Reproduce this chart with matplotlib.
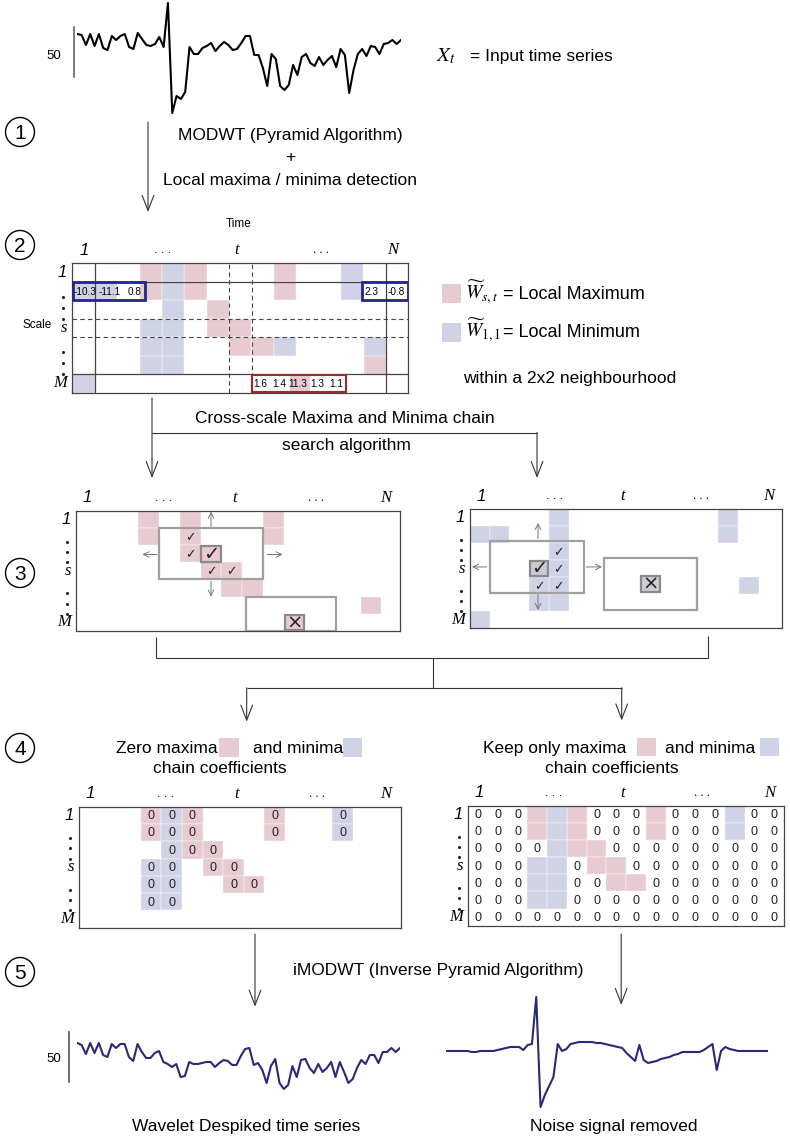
import matplotlib
matplotlib.use('Agg')
import matplotlib.pyplot as plt
from matplotlib.patches import Rectangle, Circle

plt.rcParams['font.family'] = ['Liberation Sans', 'DejaVu Sans']
plt.rcParams['mathtext.fontset'] = 'stix'

W, H = 790, 1138
PINK = '#e8cad1'
BLUE = '#d0d2e6'
NAVY = '#2b2878'
INK = '#333333'
GRAY = '#a0a0a0'

# ---- time series (1 unit ~ 1 px, scale bar = 50) ----
input_series = [86, 85, 75, 86, 74, 86, 72, 70, 84, 80, 84, 86, 73, 71, 87, 81, 75, 74, 76, 83,
                73, 117, 7, 24, 21, 28, 73, 66, 66, 72, 74, 77, 69, 74, 78, 75, 70, 71,
                77, 84, 84, 65, 65, 52, 34, 66, 61, 34, 30, 35, 55, 45, 63, 66, 57, 54, 63, 55,
                60, 64, 53, 71, 65, 27, 50, 66, 71, 64, 74, 73, 66, 76, 77, 80, 76, 80]
despiked_series = [57, 55, 46, 57, 47, 57, 45, 43, 56, 52, 56, 56, 43, 39, 56, 48, 42, 42, 47, 49,
                   38, 36, 33, 36, 23, 24, 38, 36, 36, 37, 38, 38, 33, 37, 40, 39, 35, 35, 44, 51,
                   52, 35, 37, 30, 17, 34, 41, 17, 11, 15, 34, 23, 40, 41, 32, 27, 36, 28, 32, 38,
                   23, 38, 28, 17, 21, 32, 40, 36, 45, 45, 37, 48, 48, 52, 48, 52]
noise_series = [0, 0, 0, 0, 0, 0, -1, -1, 0, 0, 0, 0, 1, 2, 3, 4, 4, 4, 1, 6,
                7, 54, -56, -44, -35, -26, 7, 0, 2, 7, 8, 9, 9, 9, 9, 8, 8, 7, 6, 5,
                4, 3, -2, -6, -10, 6, -9, -12, -11, -10, -8, -7, -6, -4, -3, -1, -1, -1, -1, -1,
                1, 4, 7, -19, 0, 4, 2, 1, 0, 0, 0, 0, 0, 0, 0, 0]

# ---- wavelet coefficient grids: (row, column) of flagged cells ----
step2_max = [(0, 3), (1, 3), (0, 5), (1, 5), (2, 6), (3, 6), (3, 7), (4, 7), (4, 8), (0, 9), (1, 9), (5, 13)]
step2_min = [(0, 4), (1, 4), (2, 4), (3, 4), (4, 4), (5, 4), (3, 3), (4, 3), (5, 3), (4, 9),
             (0, 12), (1, 12), (4, 13), (6, 0), (1, 0), (1, 1)]
box_left_vals = ['-10.3', '-11.1', '0.8']
box_right_vals = ['2.3', '-0.8']
box_bottom_vals = ['1.6', '1.4', '11.3', '1.3', '1.1']

step3_max = [(0, 3), (1, 3), (0, 5), (1, 5), (2, 5), (2, 6), (3, 6), (3, 7), (4, 7), (4, 8),
             (0, 9), (1, 9), (5, 13.7), (6, 10)]
step3_max_checks = [(1, 5), (2, 5), (3, 6), (3, 7)]
step3_max_hit, step3_max_miss = (2, 6), (6, 10)
step3_min = [(1, 0), (1, 1), (0, 4), (1, 4), (2, 4), (3, 4), (4, 4), (5, 4), (3, 3), (4, 3), (5, 3),
             (0, 12.6), (1, 12.6), (4, 13.65), (6, 0)]
step3_min_checks = [(2, 4), (3, 4), (4, 3), (4, 4)]
step3_min_hit, step3_min_miss = (3, 3), (3.9, 8.66)

step4_max = [(0, 3), (1, 3), (0, 5), (1, 5), (2, 5), (2, 6), (3, 6), (3, 7), (4, 7), (4, 8), (0, 9), (1, 9)]
step4_min_left = [(0, 4), (1, 4), (2, 4), (3, 3), (3, 4), (4, 3), (4, 4), (5, 3), (5, 4), (0, 12.3), (1, 12.3)]
step4_min_right = [(0, 4), (1, 4), (2, 4), (3, 3), (3, 4), (4, 3), (4, 4), (5, 3), (5, 4), (0, 13), (1, 13)]

fig = plt.figure(figsize=(W / 100, H / 100), dpi=100)
canvas = fig.add_axes([0, 0, 1, 1])
canvas.set_xlim(0, W)
canvas.set_ylim(H, 0)
canvas.axis('off')


def px_axes(x0, y0, x1, y1):
    ax = fig.add_axes([x0 / W, 1 - y1 / H, (x1 - x0) / W, (y1 - y0) / H])
    ax.set_zorder(2)
    return ax


def text(x, y, s, size=12.5, ha='center', **kw):
    canvas.text(x, y, s, fontsize=size, ha=ha, va='center', **kw)


def line(xs, ys):
    canvas.plot(xs, ys, color=INK, lw=0.8, solid_capstyle='butt')


def arrow(x, y0, y1):
    canvas.annotate('', xy=(x, y1), xytext=(x, y0),
                    arrowprops=dict(arrowstyle='->,head_length=0.9,head_width=0.35', lw=0.8,
                                    color=INK, shrinkA=0, shrinkB=0, mutation_scale=12))


def step_mark(y, n):
    canvas.add_patch(Circle((20, y), 14.5, fill=False, ec='black', lw=1.0))
    text(20, y + 1, str(n), size=15)


def make_grid(x0, y0, x1, y1, ncols, nrows=7):
    ax = px_axes(x0, y0, x1, y1)
    ax.set_xlim(0, ncols)
    ax.set_ylim(nrows, 0)
    ax.set_xticks([])
    ax.set_yticks([])
    for sp in ax.spines.values():
        sp.set_color('#444444')
        sp.set_linewidth(0.9)
    # column and row labels
    for frac, lab, fam in [(0.035, '1', 'Liberation Sans'), (0.27, '. . .', 'Liberation Sans'),
                           (0.49, 't', 'Liberation Serif'), (0.74, '. . .', 'Liberation Serif'),
                           (0.955, 'N', 'Liberation Serif')]:
        style = 'normal' if lab.startswith('.') else 'italic'
        text(x0 + frac * (x1 - x0), y0 - 13, lab, size=9 if style == 'normal' else 12,
             family=fam, style=style)
    rh = (y1 - y0) / nrows
    for r, lab, fam in [(0, '1', 'Liberation Sans'), (3, 's', 'Liberation Serif'), (6, 'M', 'Liberation Serif')]:
        text(x0 - 5, y0 + (r + 0.5) * rh, lab, size=12, ha='right', family=fam, style='italic')
    for r in [1.3, 1.9, 2.5, 4.3, 4.9, 5.5]:
        canvas.plot(x0 - 9, y0 + (r + 0.5) * rh, 'o', ms=1.2, color='#222222')
    return ax


def fill_cells(ax, cells, color, label=None, size=9):
    for r, c in cells:
        ax.add_patch(Rectangle((c, r), 1, 1, facecolor=color, edgecolor='white', lw=0.3))
        if label:
            ax.text(c + 0.5, r + 0.55, label, fontsize=size, ha='center', va='center', color='#222222')


def ticks(ax, cells, size=9):
    for r, c in cells:
        ax.text(c + 0.5, r + 0.55, '\u2713', fontsize=size, ha='center', va='center',
                family='DejaVu Sans', color='#222222')


def box_mark(ax, cell, fc, mark):
    r, c = cell
    ax.add_patch(Rectangle((c + 0.04, r + 0.04), 0.92, 0.92, facecolor=fc, edgecolor='#8a8a8a', lw=1.6, zorder=4))
    ax.text(c + 0.5, r + 0.52, mark, fontsize=14, ha='center', va='center',
            family='DejaVu Sans', color='#222222', zorder=5)


def small_arrow(ax, x0, y0, x1, y1):
    ax.annotate('', xy=(x1, y1), xytext=(x0, y0),
                arrowprops=dict(arrowstyle='->,head_length=0.5,head_width=0.25', lw=0.7,
                                color='#777777', shrinkA=0, shrinkB=0, mutation_scale=8))


# ---------------- step 1: input series ----------------
ax = px_axes(77.3, 0, 401, 120)
ax.plot(range(len(input_series)), input_series, color='black', lw=1.5)
ax.plot([-0.8, -0.8], [43, 93], color='#666666', lw=1.2, clip_on=False)
ax.text(-3.8, 64, '50', fontsize=9.5, ha='right', va='center')
ax.set_xlim(0, len(input_series) - 1)
ax.set_ylim(0, 120)
ax.axis('off')

text(436, 56, r'$X_t$', size=15, ha='left')
text(470, 56, '= Input time series', size=12.5, ha='left')

step_mark(132, 1)
arrow(148, 122, 212)
text(290, 135, 'MODWT (Pyramid Algorithm)')
text(290, 157, '+')
text(290, 180, 'Local maxima / minima detection')

# ---------------- step 2: MODWT coefficient grid ----------------
step_mark(245, 2)
text(239, 224, 'Time', size=8.5)
text(37, 325, 'Scale', size=8.5)
g2 = make_grid(72.3, 263.3, 408.3, 392.7, 15)
fill_cells(g2, step2_max, PINK)
fill_cells(g2, step2_min, BLUE)
for yv in [1, 6]:
    g2.axhline(yv, color='#444444', lw=0.9)
for xv in [1, 14]:
    g2.axvline(xv, color='#444444', lw=0.9)
for yv in [3, 4]:
    g2.axhline(yv, color='#444444', lw=0.8, ls=(0, (4, 3)))
for xv in [7, 8]:
    g2.axvline(xv, color='#444444', lw=0.8, ls=(0, (4, 3)))
g2.add_patch(Rectangle((0.03, 1), 3.2, 1, fill=False, ec='#23238c', lw=2.0, zorder=4))
g2.add_patch(Rectangle((12.92, 1), 2.05, 1, fill=False, ec='#23238c', lw=2.0, zorder=4))
for k, v in enumerate(box_left_vals):
    g2.text(0.57 + 1.1 * k, 1.55, v, fontsize=7.2, ha='center', va='center', zorder=5)
for k, v in enumerate(box_right_vals):
    g2.text(13.37 + 1.1 * k, 1.55, v, fontsize=7.2, ha='center', va='center', zorder=5)
g2.add_patch(Rectangle((9.72, 6.02), 0.9, 0.93, facecolor=PINK, edgecolor='none', zorder=3))
g2.add_patch(Rectangle((8.0, 6.02), 4.2, 0.93, fill=False, ec='#9c2b2b', lw=1.5, zorder=4))
for k, v in enumerate(box_bottom_vals):
    g2.text(8.38 + 0.85 * k, 6.52, v, fontsize=7.2, ha='center', va='center', zorder=5)

# legend
canvas.add_patch(Rectangle((441.7, 284.3), 19, 19, facecolor=PINK, edgecolor='none'))
canvas.add_patch(Rectangle((441.7, 322.7), 19, 19, facecolor=BLUE, edgecolor='none'))
text(465, 292, r'$\widetilde{W}_{s,t}$', size=14, ha='left')
text(503, 294, '= Local Maximum', size=13, ha='left')
text(465, 330, r'$\widetilde{W}_{1,1}$', size=14, ha='left')
text(503, 332, '= Local Minimum', size=13, ha='left')
text(463, 378, 'within a 2x2 neighbourhood', size=12.5, ha='left')

# arrows to step 3
line([152, 537], [432.5, 432.5])
arrow(152, 398, 478)
arrow(537, 432.5, 478)
text(345, 418, 'Cross-scale Maxima and Minima chain')
text(346, 445, 'search algorithm')

# ---------------- step 3: chain search ----------------
step_mark(573, 3)
g3a = make_grid(76, 510.7, 400, 631, 15.6)
fill_cells(g3a, step3_max, PINK)
ticks(g3a, step3_max_checks)
box_mark(g3a, step3_max_hit, PINK, '\u2713')
box_mark(g3a, step3_max_miss, PINK, '\u00d7')
g3a.add_patch(Rectangle((4, 1), 5, 3, fill=False, ec=GRAY, lw=1.6, zorder=3))
g3a.add_patch(Rectangle((8.2, 5), 4.3, 2, fill=False, ec=GRAY, lw=1.6, zorder=3))
small_arrow(g3a, 6.5, 0.92, 6.5, 0.05)
small_arrow(g3a, 6.5, 4.1, 6.5, 5.0)
small_arrow(g3a, 3.9, 2.55, 3.2, 2.55)
small_arrow(g3a, 9.2, 2.55, 9.95, 2.55)

g3b = make_grid(470, 509, 782.3, 628.3, 15.85)
fill_cells(g3b, step3_min, BLUE)
ticks(g3b, step3_min_checks)
box_mark(g3b, step3_min_hit, '#c9cad4', '\u2713')
box_mark(g3b, step3_min_miss, '#cfcfd3', '\u00d7')
g3b.add_patch(Rectangle((1, 1.9), 4.8, 3.04, fill=False, ec=GRAY, lw=1.6, zorder=3))
g3b.add_patch(Rectangle((6.8, 2.9), 4.7, 3.04, fill=False, ec=GRAY, lw=1.6, zorder=3))
small_arrow(g3b, 3.45, 1.75, 3.45, 0.82)
small_arrow(g3b, 3.45, 5.0, 3.45, 5.93)
small_arrow(g3b, 0.85, 3.4, 0.1, 3.4)
small_arrow(g3b, 5.9, 3.4, 6.7, 3.4)

# connectors to step 4
line([156, 156], [636.7, 658.3])
line([708.3, 708.3], [636, 658.3])
line([156, 708.3], [658.3, 658.3])
line([433.3, 433.3], [658.3, 687.7])
line([246.7, 621.7], [687.7, 687.7])
arrow(246.7, 687.7, 721.7)
arrow(621.7, 687.7, 720.5)

# ---------------- step 4: zero / keep chains ----------------
step_mark(748, 4)
text(116, 748, 'Zero maxima', ha='left')
canvas.add_patch(Rectangle((219.3, 738.3), 19.7, 18.4, facecolor=PINK, edgecolor='none'))
text(252.7, 748, 'and minima', ha='left')
canvas.add_patch(Rectangle((342.7, 738.3), 19, 18.4, facecolor=BLUE, edgecolor='none'))
text(220, 768, 'chain coefficients')

text(483.3, 748, 'Keep only maxima', ha='left')
canvas.add_patch(Rectangle((636.7, 737.7), 19.3, 18.3, facecolor=PINK, edgecolor='none'))
text(665, 748, 'and minima', ha='left')
canvas.add_patch(Rectangle((760, 737.7), 19, 18.3, facecolor=BLUE, edgecolor='none'))
text(612.3, 768, 'chain coefficients')

g4a = make_grid(79, 806.7, 400.5, 927.7, 15.6)
fill_cells(g4a, step4_max, PINK, '0')
fill_cells(g4a, step4_min_left, BLUE, '0')

g4b = make_grid(468.3, 805.7, 784, 925.7, 16)
fill_cells(g4b, step4_max, PINK)
fill_cells(g4b, step4_min_right, BLUE)
flagged = set(step4_max) | set(step4_min_right)
for r in range(7):
    for c in range(16):
        if (r, c) not in flagged:
            g4b.text(c + 0.5, r + 0.55, '0', fontsize=9, ha='center', va='center', color='#222222')

# ---------------- step 5: inverse transform ----------------
step_mark(972, 5)
arrow(255, 934, 1006.7)
arrow(621.2, 934, 1005)
text(438.4, 970, 'iMODWT (Inverse Pyramid Algorithm)')

ax = px_axes(77.3, 1000, 400, 1100)
ax.plot(range(len(despiked_series)), despiked_series, color=NAVY, lw=1.5)
ax.plot([-1.86, -1.86], [18.3, 68.3], color='#555555', lw=1.2, clip_on=False)
ax.text(-3.7, 41, '50', fontsize=9.5, ha='right', va='center')
ax.set_xlim(0, len(despiked_series) - 1)
ax.set_ylim(0, 100)
ax.axis('off')

ax = px_axes(446, 990, 768.3, 1112)
ax.plot(range(len(noise_series)), noise_series, color=NAVY, lw=1.5)
ax.set_xlim(0, len(noise_series) - 1)
ax.set_ylim(-61, 61)
ax.axis('off')

text(246, 1127, 'Wavelet Despiked time series')
text(613.6, 1127, 'Noise signal removed')

fig.savefig('out.png', dpi=100)
